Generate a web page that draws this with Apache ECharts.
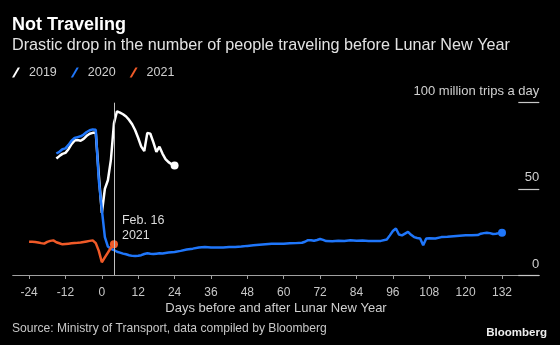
<!DOCTYPE html>
<html>
<head>
<meta charset="utf-8">
<script src="https://cdn.jsdelivr.net/npm/echarts@6/dist/echarts.min.js"></script>
<style>
html,body{margin:0;padding:0;background:#000;}
#c{width:560px;height:345px;}
</style>
</head>
<body>
<div id="c"></div>
<script>
// ---- data ----
var xTicks = [-24, -12, 0, 12, 24, 36, 48, 60, 72, 84, 96, 108, 120, 132];
var yTicks = [0, 50, 100];

var days2019 = [-15,-14,-13,-12,-11,-10,-9,-8,-7,-6,-5,-4,-3,-2,-1,0,1,2,3,4,5,6,7,8,9,10,11,12,13,14,15,16,17,18,19,20,21,22,23,24];
var vals2019 = [67.6,69,70.3,70.9,73,76,78,78.3,77.9,79,80.8,82,82.5,82.5,58,36,50,55,67,88,95,94.2,93.3,92,90,87.5,84,79.5,74.5,72,82.5,82,77,71.5,74.5,70.5,67.3,65.5,64.3,63.6];

var days2020 = [-15,-14,-13,-12,-11,-10,-9,-8,-7,-6,-5,-4,-3,-2,-1,0,1,2,3,4,5,6,7,8,9,10,11,12,13,14,15,16,17,18,19,20,21,22,23,24,26,28,30,32,34,36,38,40,42,44,46,48,50,52,54,56,58,60,62,64,66,67,68,69,70,71,72,73,74,76,78,80,82,84,86,88,90,92,94,95,96,97,98,99,100,101,102,103,104,105,106,107,108,110,112,114,116,118,120,122,124,125,126,127,128,129,130,131,132];
var vals2020 = [70.5,71.5,73,73.5,75.5,78,79.5,80,80.5,81.5,83,84,84.5,84.3,55,38,22,16.5,15.2,14.5,13.5,13,12.4,12,11.5,11.1,11,11.2,11.5,12.2,12.6,12.3,12.2,12.4,12.6,12.5,12.8,13,13.2,13.4,14,14.8,15.3,16,16.2,16,15.9,16,16.2,16.3,16.5,16.9,17.2,17.5,17.8,18.1,18.2,18.2,18.4,18.5,18.7,19.3,20.2,20.2,19.9,20.3,20.9,20.4,19.7,19.6,19.9,19.8,20.1,19.9,20,19.8,19.7,19.8,20.6,23,25.5,27,23.5,23,24,25,23.3,22,21.5,21.2,17.2,21.2,21.3,21.2,22,22.2,22.5,22.8,23,23,23.2,24,24.3,24.5,24.3,23.8,24,24.3,24.5];

var days2021 = [-24,-23,-22,-21,-20,-19,-18,-17,-16,-15,-14,-13,-12,-11,-10,-9,-8,-7,-6,-5,-4,-3,-2,-1,0,1,2,3,4];
var vals2021 = [19.3,19.3,19.2,18.9,18.5,18.2,19.2,19.8,20.1,19,18.4,17.8,18,18.2,18.4,18.6,18.7,18.9,19.2,19.5,19.8,20.1,18.5,14,7.4,10.2,13,15.8,17.8];

var annotationDay = 4;
var annotationText = 'Feb. 16\n2021';

function pairs(xs, ys) { return xs.map(function (x, i) { return [x, ys[i]]; }); }
function endSymbol(n) { return function (v, p) { return p.dataIndex === n - 1 ? 8 : 0; }; }

var FONT = '"Liberation Sans", Arial, sans-serif';
var chart = echarts.init(document.getElementById('c'), null, { renderer: 'canvas' });

chart.setOption({
  backgroundColor: '#000000',
  animation: false,
  textStyle: { fontFamily: FONT },
  title: [
    { text: 'Not Traveling', left: 12, top: 16, padding: 0,
      textStyle: { color: '#ffffff', fontSize: 18, fontWeight: 'bold', fontFamily: FONT } },
    { text: 'Drastic drop in the number of people traveling before Lunar New Year', left: 12, top: 38, padding: 0,
      textStyle: { color: '#e2e2e2', fontSize: 16.2, fontWeight: 'normal', fontFamily: FONT } },
    { text: 'Source: Ministry of Transport, data compiled by Bloomberg', left: 12, top: 323, padding: 0,
      textStyle: { color: '#c8c8c8', fontSize: 12.1, fontWeight: 'normal', fontFamily: FONT } },
    { text: 'Bloomberg', right: 13, top: 327, padding: 0,
      textStyle: { color: '#eeeeee', fontSize: 11.5, fontWeight: 'bold', fontFamily: FONT } }
  ],
  legend: {
    left: 12, top: 66, padding: 0,
    itemWidth: 8, itemHeight: 11, itemGap: 14,
    icon: 'path://M0,10 L2.2,10 L8,0 L5.8,0 Z',
    textStyle: { color: '#d0d0d0', fontSize: 12.5, fontFamily: FONT, padding: [0, 0, 0, 4] },
    data: ['2019', '2020', '2021']
  },
  grid: { left: 12.7, right: 20.7, top: 102.7, bottom: 70, containLabel: false },
  xAxis: {
    type: 'value', min: -29.4, max: 144.3,
    name: 'Days before and after Lunar New Year',
    nameLocation: 'middle', nameGap: 27,
    nameTextStyle: { color: '#d0d0d0', fontSize: 13, fontFamily: FONT },
    axisLine: { show: true, onZero: false, lineStyle: { color: '#a0a0a0', width: 1 } },
    axisTick: { show: true, customValues: xTicks, length: 4, lineStyle: { color: '#a0a0a0' } },
    axisLabel: { customValues: xTicks, color: '#c8c8c8', fontSize: 12, margin: 12, fontFamily: FONT },
    splitLine: { show: false }
  },
  yAxis: {
    type: 'value', position: 'right', min: 0, max: 100, interval: 50,
    axisLine: { show: false, onZero: false },
    axisTick: { show: true, inside: true, length: 21, lineStyle: { color: '#c8c8c8', width: 1.2 } },
    axisLabel: {
      inside: true, margin: 0, color: '#d0d0d0', fontSize: 13, fontFamily: FONT,
      verticalAlign: 'bottom', lineHeight: 14, padding: [0, 0, 4, 0],
      formatter: function (v) { return v === 100 ? '100 million trips a day' : String(v); }
    },
    splitLine: { show: false }
  },
  series: [
    {
      name: '2019', type: 'line', data: pairs(days2019, vals2019),
      color: '#ffffff', lineStyle: { width: 2.5, color: '#ffffff' },
      symbol: 'circle', symbolSize: endSymbol(days2019.length), showSymbol: true, showAllSymbol: true,
      itemStyle: { color: '#ffffff' }, z: 2
    },
    {
      name: '2020', type: 'line', data: pairs(days2020, vals2020),
      color: '#1f76fa', lineStyle: { width: 2.5, color: '#1f76fa' },
      symbol: 'circle', symbolSize: endSymbol(days2020.length), showSymbol: true, showAllSymbol: true,
      itemStyle: { color: '#1f76fa' }, z: 3,
      markLine: {
        silent: true, symbol: 'none', label: { show: false },
        lineStyle: { color: '#c0c0c0', width: 1, type: 'solid' },
        data: [{ xAxis: annotationDay }]
      }
    },
    {
      name: '2021', type: 'line', data: pairs(days2021, vals2021),
      color: '#f05a28', lineStyle: { width: 2.5, color: '#f05a28' },
      symbol: 'circle', symbolSize: endSymbol(days2021.length), showSymbol: true, showAllSymbol: true,
      itemStyle: { color: '#f05a28' }, z: 4,
      markPoint: {
        symbol: 'circle', symbolSize: 0, silent: true,
        label: {
          show: true, position: 'inside', align: 'left', offset: [8, 0],
          color: '#dcdcdc', fontSize: 12.5, lineHeight: 15, fontFamily: FONT,
          formatter: function () { return annotationText; }
        },
        data: [{ coord: [annotationDay, 27.2] }]
      }
    }
  ]
});
</script>
</body>
</html>
